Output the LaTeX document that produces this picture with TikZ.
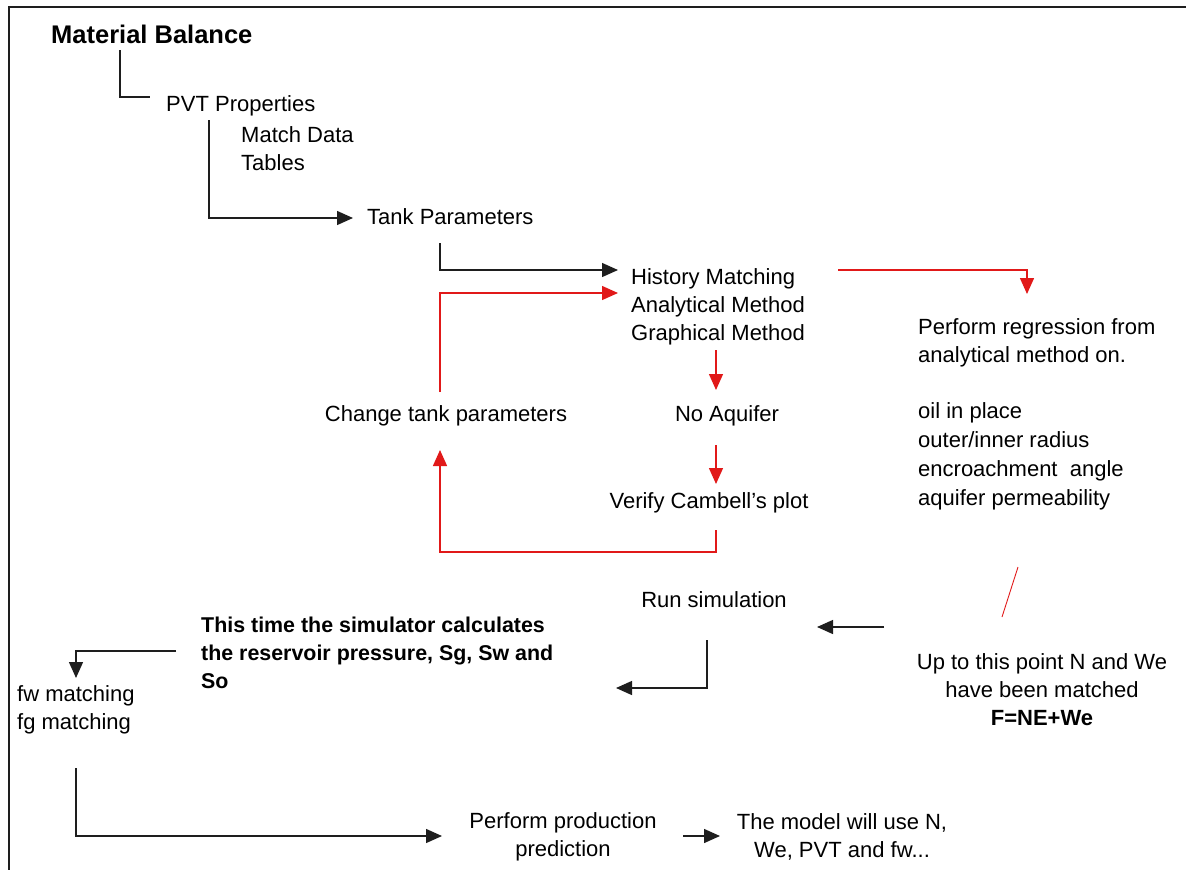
\documentclass[tikz,border=0pt]{standalone}
\usepackage{fontspec}
\setmainfont{Liberation Sans}
\usetikzlibrary{arrows.meta}
\definecolor{myred}{RGB}{225,25,25}
\definecolor{myblack}{RGB}{30,30,30}
\tikzset{
  txt/.style={font=\fontsize{22}{28}\selectfont, inner sep=0pt, align=left},
  btxt/.style={inner sep=0pt, align=left, font=\fontsize{21.4}{28}\selectfont\bfseries},
  blk/.style={draw=myblack, line width=1.4pt},
  rln/.style={draw=myred, line width=1.4pt},
  tip/.style={-{Triangle[length=16pt,width=14pt]}},
}
\begin{document}
\begin{tikzpicture}[x=1pt,y=-1pt]
\useasboundingbox (0,0) rectangle (1186,870);
% frame
\draw[line width=2pt, myblack] (9,870) -- (9,7) -- (1186,7);

% nodes
\node[btxt, font=\fontsize{25.5}{30}\selectfont\bfseries, anchor=west] (mb) at (51,34) {Material Balance};
\node[txt, anchor=west] (pvt) at (166,106) {PVT Properties};
\node[txt, anchor=west] (md) at (241,148.5) {Match Data\\Tables};
\node[txt, anchor=west] (tank) at (367,217) {Tank Parameters};
\node[txt, anchor=west] (hm) at (631,307) {History Matching\\Analytical Method\\Graphical Method};
\node[txt, anchor=west] (reg) at (918,343) {Perform regression from\\analytical method on.};
\node[txt, anchor=west, font=\fontsize{22}{29}\selectfont] (oil) at (918,456) {oil in place\\outer/inner radius\\encroachment\ \ angle\\aquifer permeability};
\node[txt] (noaq) at (727,416) {No Aquifer};
\node[txt] (ver) at (709,503) {Verify Cambell's plot};
\node[txt] (chg) at (446,416) {Change tank parameters};
\node[txt] (run) at (714,600) {Run simulation};
\node[txt, align=center] (up) at (1042,690) {Up to this point N and We\\have been matched\\\textbf{F=NE+We}};
\node[btxt, anchor=west] (sim) at (201,653) {This time the simulator calculates\\the reservoir pressure, Sg, Sw and\\So};
\node[txt, anchor=west] (fw) at (17,710) {fw matching\\fg matching};
\node[txt, align=center] (ppp) at (563,837) {Perform production\\prediction};
\node[txt, align=center] (model) at (842,837) {The model will use N,\\We, PVT and fw...};

% coordinates
\coordinate (a0) at (120,50);  \coordinate (a1) at (150,97);
\coordinate (b0) at (209,120); \coordinate (b1) at (353,218);
\coordinate (c0) at (440,243); \coordinate (c1) at (618,270);
\coordinate (d0) at (440,392); \coordinate (d1) at (618,293);
\coordinate (e0) at (838,270); \coordinate (e1) at (1027,294);
\coordinate (f0) at (716,350); \coordinate (f1) at (716,390);
\coordinate (g0) at (716,445); \coordinate (g1) at (716,484);
\coordinate (h0) at (716,530); \coordinate (h1) at (440,450);
\coordinate (s0) at (1018,567); \coordinate (s1) at (1002,617);
\coordinate (i0) at (884,627); \coordinate (i1) at (817,627);
\coordinate (j0) at (707,640); \coordinate (j1) at (616,688);
\coordinate (k0) at (176,651); \coordinate (k1) at (76,678);
\coordinate (l0) at (76,768);  \coordinate (l1) at (442,836);
\coordinate (m0) at (683,836); \coordinate (m1) at (720,836);

% black connectors
\draw[blk] (a0) |- (a1);
\draw[blk, tip] (b0) |- (b1);
\draw[blk, tip] (c0) |- (c1);
\draw[blk, tip] (i0) -- (i1);
\draw[blk, tip] (j0) |- (j1);
\draw[blk, tip] (k0) -| (k1);
\draw[blk, tip] (l0) |- (l1);
\draw[blk, tip] (m0) -- (m1);

% red connectors
\draw[rln, tip] (d0) |- (d1);
\draw[rln, tip] (e0) -| (e1);
\draw[rln, tip] (f0) -- (f1);
\draw[rln, tip] (g0) -- (g1);
\draw[rln, tip] (h0) |- (440,552) -- (h1);
\draw[myred, line width=0.9pt] (s0) -- (s1);
\end{tikzpicture}
\end{document}
